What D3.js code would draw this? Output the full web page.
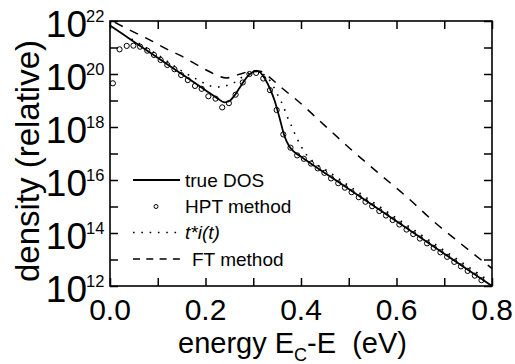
<!DOCTYPE html>
<html>
<head>
<meta charset="utf-8">
<script src="https://cdn.jsdelivr.net/npm/d3@7"></script>
<style>
	body { margin: 0; background: #fff; }
	text { font-family: 'Liberation Sans', Arial, sans-serif; fill: #000; }
</style>
</head>
<body>
<div id="chart"></div>
<script>
// energy (eV) and log10(density)
const trueE = [0, 0.05, 0.10, 0.15, 0.20, 0.225, 0.24, 0.25, 0.26, 0.27, 0.28, 0.29, 0.30, 0.307, 0.315, 0.325, 0.335, 0.345, 0.355, 0.365, 0.375, 0.385, 0.40, 0.50, 0.60, 0.70, 0.80];
const trueLog = [21.83, 21.22, 20.61, 20.00, 19.39, 19.08, 18.93, 18.98, 19.17, 19.44, 19.72, 19.95, 20.08, 20.11, 20.05, 19.80, 19.45, 18.98, 18.35, 17.68, 17.28, 17.07, 16.88, 15.66, 14.44, 13.22, 12.00];

const hptE = [0.006, 0.020, 0.035, 0.049, 0.063, 0.078, 0.092, 0.106, 0.120, 0.135, 0.149, 0.163, 0.178, 0.192, 0.206, 0.221, 0.235, 0.249, 0.263, 0.278, 0.292, 0.306, 0.321, 0.335, 0.349, 0.363, 0.378, 0.392, 0.406, 0.421, 0.435, 0.449, 0.463, 0.478, 0.492, 0.506, 0.521, 0.535, 0.549, 0.564, 0.578, 0.592, 0.606, 0.621, 0.635, 0.649, 0.664, 0.678, 0.692, 0.706, 0.721, 0.735, 0.749, 0.764, 0.778];
const hptLog = [19.65, 20.93, 21.06, 21.07, 21.03, 20.88, 20.72, 20.53, 20.34, 20.18, 19.96, 19.77, 19.55, 19.44, 19.16, 19.07, 18.74, 18.90, 19.22, 19.68, 20.00, 20.04, 19.83, 19.39, 18.64, 17.72, 17.22, 16.93, 16.80, 16.62, 16.44, 16.27, 16.06, 15.88, 15.71, 15.54, 15.35, 15.18, 15.01, 14.83, 14.66, 14.49, 14.32, 14.13, 13.96, 13.79, 13.61, 13.44, 13.27, 13.10, 12.91, 12.74, 12.57, 12.39, 12.22];

const tiE = [0.045, 0.10, 0.15, 0.19, 0.205, 0.22, 0.235, 0.25, 0.265, 0.28, 0.295, 0.307, 0.32, 0.33, 0.342, 0.352, 0.362, 0.371, 0.381, 0.39, 0.40, 0.412, 0.425, 0.45, 0.55, 0.65, 0.75, 0.795];
const tiLog = [21.32, 20.72, 20.12, 19.72, 19.58, 19.51, 19.52, 19.60, 19.72, 19.93, 20.06, 20.10, 20.00, 19.87, 19.54, 19.18, 18.83, 18.40, 18.00, 17.63, 17.28, 16.94, 16.70, 16.40, 15.17, 13.95, 12.73, 12.18];

const ftE = [0.01, 0.05, 0.084, 0.12, 0.147, 0.175, 0.20, 0.22, 0.244, 0.26, 0.28, 0.30, 0.315, 0.33, 0.36, 0.391, 0.447, 0.503, 0.565, 0.621, 0.677, 0.733, 0.80];
const ftLog = [21.95, 21.58, 21.28, 20.93, 20.70, 20.42, 20.17, 19.98, 19.85, 19.93, 20.04, 20.12, 20.10, 19.93, 19.47, 19.02, 18.10, 17.18, 16.22, 15.37, 14.45, 13.62, 12.66];

const xTicks = [0, 0.1, 0.2, 0.3, 0.4, 0.5, 0.6, 0.7, 0.8];
const xLabels = [0, 0.2, 0.4, 0.6, 0.8];
const yDecades = [12, 13, 14, 15, 16, 17, 18, 19, 20, 21, 22];
const yLabels = [12, 14, 16, 18, 20, 22];

const legendNames = ['true DOS', 'HPT method', 't*i(t)', 'FT method'];

var margin = { left: 110, top: 21, right: 23, bottom: 78 };
var width = 515 - margin.left - margin.right;
var height = 364 - margin.top - margin.bottom;

var svg = d3
	.select('#chart')
	.append('svg')
	.attr('width', 515)
	.attr('height', 364);

var g = svg.append('g').attr('transform', 'translate(' + margin.left + ',' + margin.top + ')');

var x = d3.scaleLinear().domain([0, 0.8]).range([0, width]);
var y = d3.scaleLog().domain([1e12, 1e22]).range([height, 0]);

const toPoints = (es, logs) => es.map((e, i) => ({ e: e, v: Math.pow(10, logs[i]) }));

var line = d3
	.line()
	.x((d) => x(d.e))
	.y((d) => y(d.v))
	.curve(d3.curveMonotoneX);

// ticks, all pointing inwards
g.append('g')
	.attr('transform', 'translate(0,' + height + ')')
	.call(d3.axisBottom(x).tickValues(xTicks).tickSize(-8).tickFormat(''));
g.append('g').call(d3.axisTop(x).tickValues(xTicks).tickSize(-8).tickFormat(''));
g.append('g').call(d3.axisLeft(y).tickValues(yDecades.map((p) => Math.pow(10, p))).tickSize(-8).tickFormat(''));
g.append('g')
	.attr('transform', 'translate(' + width + ',0)')
	.call(d3.axisRight(y).tickValues(yDecades.map((p) => Math.pow(10, p))).tickSize(-8).tickFormat(''));
g.selectAll('.domain').remove();
g.selectAll('.tick line').attr('stroke', '#000').attr('stroke-width', 1.5);

g.append('rect')
	.attr('width', width)
	.attr('height', height)
	.attr('fill', 'none')
	.attr('stroke', '#000')
	.attr('stroke-width', 1.6);

// curves
g.append('path')
	.datum(toPoints(ftE, ftLog))
	.attr('d', line)
	.attr('fill', 'none')
	.attr('stroke', '#000')
	.attr('stroke-width', 1.5)
	.attr('stroke-dasharray', '9,8');

g.append('path')
	.datum(toPoints(tiE, tiLog))
	.attr('d', line)
	.attr('fill', 'none')
	.attr('stroke', '#000')
	.attr('stroke-width', 1.6)
	.attr('stroke-dasharray', '1.6,6.7');

g.append('path')
	.datum(toPoints(trueE, trueLog))
	.attr('d', line)
	.attr('fill', 'none')
	.attr('stroke', '#000')
	.attr('stroke-width', 1.8);

g.selectAll('circle.hpt')
	.data(toPoints(hptE, hptLog))
	.enter()
	.append('circle')
	.attr('class', 'hpt')
	.attr('cx', (d) => x(d.e))
	.attr('cy', (d) => y(d.v))
	.attr('r', 2.6)
	.attr('fill', 'none')
	.attr('stroke', '#000')
	.attr('stroke-width', 1);

// tick labels
g.selectAll('text.xlab')
	.data(xLabels)
	.enter()
	.append('text')
	.attr('class', 'xlab')
	.attr('x', (d) => x(d))
	.attr('y', height + 34)
	.attr('text-anchor', 'middle')
	.style('font-size', '30px')
	.text((d) => d.toFixed(1));

var ylab = g.selectAll('g.ylab')
	.data(yLabels)
	.enter()
	.append('g')
	.attr('class', 'ylab')
	.attr('transform', (d) => 'translate(0,' + y(Math.pow(10, d)) + ')');
ylab.append('text')
	.attr('x', -23)
	.attr('y', 16)
	.attr('text-anchor', 'end')
	.style('font-size', '37px')
	.text('10');
ylab.append('text')
	.attr('x', -24)
	.attr('y', 1)
	.style('font-size', '16.5px')
	.text((d) => d);

// axis titles
svg.append('text')
	.attr('x', 178)
	.attr('y', 353)
	.style('font-size', '29px')
	.style('white-space', 'pre')
	.call((t) => {
		t.append('tspan').text('energy E');
		t.append('tspan').attr('dy', 8).style('font-size', '18px').text('C');
		t.append('tspan').attr('dy', -8).text('-E  (eV)');
	});

svg.append('text')
	.attr('transform', 'translate(39,161) rotate(-90)')
	.attr('text-anchor', 'middle')
	.style('font-size', '33px')
	.text('density (relative)');

// legend
var legendY = [180, 206.5, 232.5, 259];
var lg = svg.append('g');
lg.append('line')
	.attr('x1', 133).attr('x2', 180)
	.attr('y1', legendY[0]).attr('y2', legendY[0])
	.attr('stroke', '#000').attr('stroke-width', 1.8);
lg.append('circle')
	.attr('cx', 156).attr('cy', legendY[1]).attr('r', 2)
	.attr('fill', 'none').attr('stroke', '#000').attr('stroke-width', 1);
lg.append('line')
	.attr('x1', 133).attr('x2', 178)
	.attr('y1', legendY[2]).attr('y2', legendY[2])
	.attr('stroke', '#000').attr('stroke-width', 1.6).attr('stroke-dasharray', '1.6,6.7');
lg.append('line')
	.attr('x1', 133).attr('x2', 180)
	.attr('y1', legendY[3]).attr('y2', legendY[3])
	.attr('stroke', '#000').attr('stroke-width', 1.5).attr('stroke-dasharray', '7,6.3');

lg.selectAll('text')
	.data(legendNames)
	.enter()
	.append('text')
	.attr('x', (d, i) => (i === 3 ? 192 : 185))
	.attr('y', (d, i) => legendY[i] + 6.5)
	.style('font-size', '19px')
	.style('font-style', (d, i) => (i === 2 ? 'italic' : 'normal'))
	.text((d) => d);
</script>
</body>
</html>
